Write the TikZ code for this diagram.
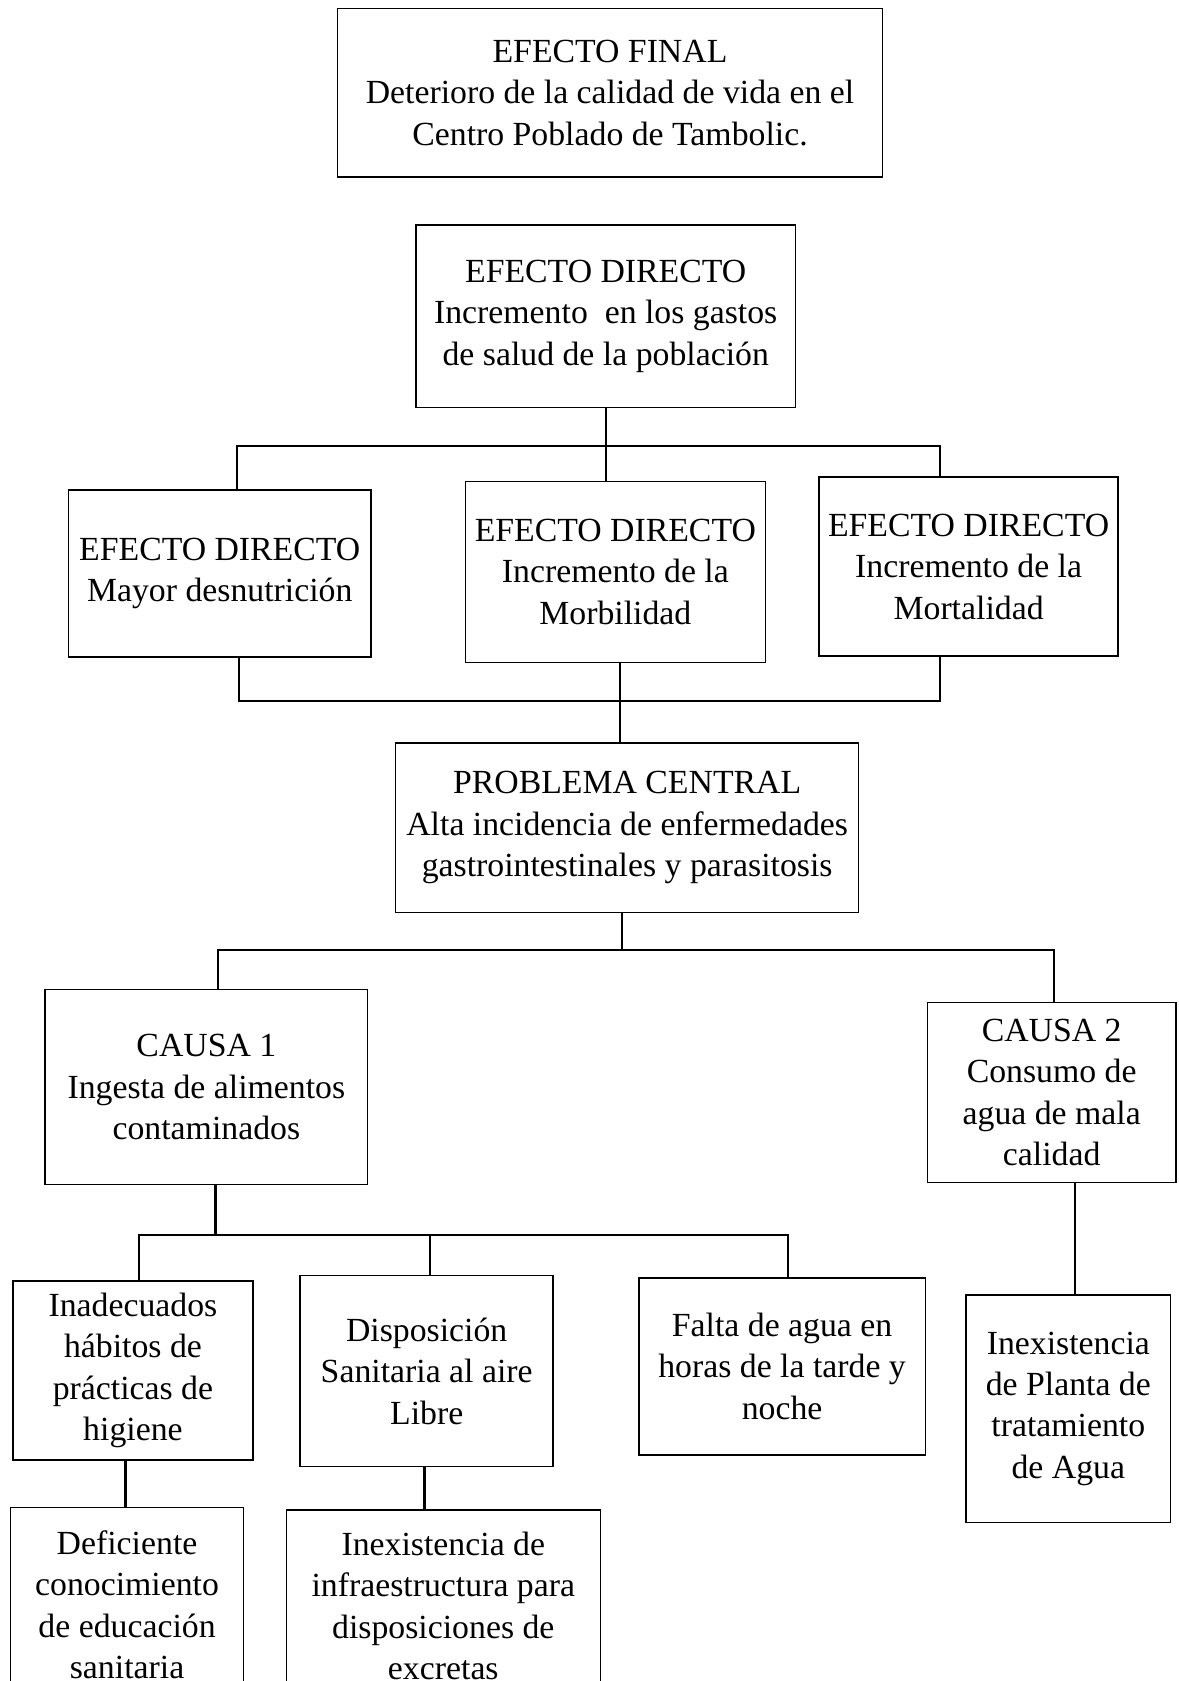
\documentclass[tikz,border=0pt]{standalone}
\usepackage{fontspec}
\setmainfont{Liberation Serif}
\begin{document}
\begin{tikzpicture}[x=1pt, y=-1pt,
  caja/.style={draw, line width=1.3pt, align=center, inner sep=0pt, font=\fontsize{31.5}{38.7}\selectfont},
  linea/.style={line width=2pt}]
\useasboundingbox (0,0) rectangle (1099,1568);
\fill[white] (0,0) rectangle (1099,1568);
\clip (0,0) rectangle (1099,1568);
\node[caja, minimum width=508, minimum height=157] (final) at (569,86.5) {EFECTO FINAL\\Deterioro de la calidad de vida en el\\Centro Poblado de Tambolic.};
\node[caja, minimum width=354, minimum height=170] (gastos) at (565,295) {EFECTO DIRECTO\\Incremento\ \ en los gastos\\de salud de la población};
\node[caja, minimum width=282, minimum height=156] (desnut) at (205,535) {EFECTO DIRECTO\\Mayor desnutrición};
\node[caja, minimum width=280, minimum height=169] (morbi) at (574,533.5) {EFECTO DIRECTO\\Incremento de la\\Morbilidad};
\node[caja, minimum width=279, minimum height=167] (mortal) at (903.5,528.5) {EFECTO DIRECTO\\Incremento de la\\Mortalidad};
\node[caja, minimum width=432, minimum height=158] (problema) at (585,772) {PROBLEMA CENTRAL\\Alta incidencia de enfermedades\\gastrointestinales y parasitosis};
\node[caja, minimum width=301, minimum height=182] (causa1) at (192.5,1014) {CAUSA 1\\Ingesta de alimentos\\contaminados};
\node[caja, minimum width=232, minimum height=168] (causa2) at (981,1019) {CAUSA 2\\Consumo de\\agua de mala\\calidad};
\node[caja, minimum width=224, minimum height=167] (inadec) at (124,1278.5) {Inadecuados\\hábitos de\\prácticas de\\higiene};
\node[caja, minimum width=236, minimum height=178] (dispo) at (398,1279) {Disposición\\Sanitaria al aire\\Libre};
\node[caja, minimum width=267, minimum height=165] (falta) at (729.5,1274.5) {Falta de agua en\\horas de la tarde y\\noche};
\node[caja, minimum width=191, minimum height=212] (planta) at (996.5,1314) {Inexistencia\\de Planta de\\tratamiento\\de Agua};
\node[caja, minimum width=217, minimum height=182] (defic) at (118.5,1497) {Deficiente\\conocimiento\\de educación\\sanitaria};
\node[caja, minimum width=293, minimum height=179] (infra) at (413.5,1498) {Inexistencia de\\infraestructura para\\disposiciones de\\excretas};
\coordinate (t1) at (221,416);
\coordinate (t2) at (877,416);
\coordinate (m1) at (223,654);
\coordinate (m2) at (877,654);
\coordinate (m3) at (578,654);
\coordinate (c1) at (203,886);
\coordinate (c2) at (983,886);
\coordinate (c3) at (580,886);
\coordinate (d1) at (130,1152);
\coordinate (d2) at (735,1152);
\coordinate (d3) at (401,1152);
\coordinate (d4) at (201,1152);
\coordinate (e1) at (1003,1150);
\coordinate (e2) at (117,1390);
\coordinate (e3) at (396,1390);
\draw[linea] (desnut.north -| t1) -- (t1) -- (t2) -- (mortal.north -| t2);
\draw[linea] (gastos.south) -- (gastos.south |- morbi.north);
\draw[linea] (desnut.south -| m1) -- (m1) -- (m2) -- (mortal.south -| m2);
\draw[linea] (morbi.south -| m3) -- (problema.north -| m3);
\draw[linea] (causa1.north -| c1) -- (c1) -- (c2) -- (causa2.north -| c2);
\draw[linea] (problema.south -| c3) -- (c3);
\draw[linea] (inadec.north -| d1) -- (d1) -- (d2) -- (falta.north -| d2);
\draw[linea] (dispo.north -| d3) -- (d3);
\draw[linea] (causa1.south -| d4) -- (d4);
\draw[linea] (causa2.south -| e1) -- (planta.north -| e1);
\draw[linea] (inadec.south -| e2) -- (defic.north -| e2);
\draw[linea] (dispo.south -| e3) -- (infra.north -| e3);
\end{tikzpicture}
\end{document}
